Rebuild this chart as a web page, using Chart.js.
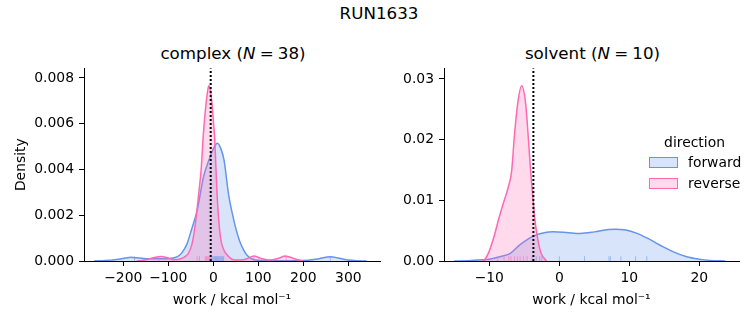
<!DOCTYPE html>
<html>
<head>
<meta charset="utf-8">
<script src="https://cdn.jsdelivr.net/npm/chart.js@4.4.1/dist/chart.umd.min.js"></script>
<style>
  body { margin: 0; width: 753px; height: 325px; position: relative; background: #fff; overflow: hidden;
         font-family: 'DejaVu Sans', sans-serif; color: #000; }
  canvas { position: absolute; }
  .txt { position: absolute; white-space: nowrap; }
  .ctr { text-align: center; width: 300px; }
  .box { position: absolute; width: 27px; height: 9px; }
</style>
</head>
<body>
<div class="txt ctr" style="left:229px;top:2.5px;font-size:16.7px;line-height:20px;">RUN1633</div>
<div class="txt ctr" style="left:83px;top:43px;font-size:16.7px;line-height:20px;">complex (<i>N</i>&#8197;=&#8197;38)</div>
<div class="txt ctr" style="left:442.5px;top:43px;font-size:16.7px;line-height:20px;">solvent (<i>N</i>&#8197;=&#8197;10)</div>

<canvas id="leftChart" width="390" height="270" style="left:0;top:55px;"></canvas>
<canvas id="rightChart" width="363" height="270" style="left:390px;top:55px;"></canvas>

<div class="txt ctr" style="left:544.5px;top:134px;font-size:13.9px;line-height:16px;">direction</div>
<div class="box" id="boxFwd" style="left:649px;top:157px;"></div>
<div class="txt" style="left:688px;top:153.7px;font-size:13.9px;line-height:16px;">forward</div>
<div class="box" id="boxRev" style="left:649px;top:177.5px;"></div>
<div class="txt" style="left:688px;top:174.7px;font-size:13.9px;line-height:16px;">reverse</div>

<script>
// complex panel: KDE curves
const complexFwdX = [-265, -240, -215, -195, -183, -170, -155, -140, -120, -100, -85, -75, -65, -58, -48, -36, -21.5, -10, 0, 9, 17, 24, 34, 42, 49, 58, 67, 75, 85, 100, 130, 180, 210, 235, 260, 280, 300, 320, 341];
const complexFwdY = [0, 0.00002, 0.00007, 0.00013, 0.00016, 0.00014, 0.00011, 0.0001, 0.0001, 0.0001, 0.00015, 0.00025, 0.0005, 0.00077, 0.0014, 0.0022, 0.0037, 0.0044, 0.0049, 0.00515, 0.0049, 0.0044, 0.0029, 0.0021, 0.0015, 0.0009, 0.0005, 0.00025, 0.0001, 0.00003, 0.00001, 0.00001, 0.00003, 0.0001, 0.00019, 0.00012, 0.00004, 0.00001, 0];
const complexRevX = [-170, -150, -135, -116, -100, -87, -72, -62, -55, -47, -40, -32.6, -27, -21.5, -16, -12, -10, -7, -3, 1, 3, 6, 9, 15.5, 23, 34, 45, 60, 75, 90, 105, 125, 145, 160, 180, 200];
const complexRevY = [0, 0.00005, 0.00013, 0.0002, 0.00013, 0.00006, 0.0001, 0.0002, 0.00035, 0.00077, 0.0016, 0.0029, 0.004, 0.0057, 0.0069, 0.0075, 0.00766, 0.0075, 0.0069, 0.0059, 0.0054, 0.004, 0.0027, 0.0011, 0.0005, 0.0002, 0.00005, 0.00004, 0.0001, 0.00022, 0.00012, 0.00004, 0.00012, 0.00022, 0.0001, 0];
const complexFwdRug = [-175, -31, -2, 1, 3, 5, 7, 9, 11, 13, 15, 17, 19, 21, 23, 260];
const complexRevRug = [-121, -36, -18, -16, -14, -12, -10, -8, -6, -4, 90, 162];
const complexRef = -5.8;
const complexXTicks = [-200, -100, 0, 100, 200, 300];
const complexYTicks = [0, 0.002, 0.004, 0.006, 0.008];

// solvent panel
const solventFwdX = [-15, -13, -11, -10, -8.5, -7, -5.6, -3.7, -2, -0.9, 1, 3, 5, 7, 8, 9.5, 11, 12.5, 14.4, 16.3, 18.2, 20, 21.5, 23.7];
const solventFwdY = [0, 0.00005, 0.0002, 0.0003, 0.0007, 0.00126, 0.0027, 0.0041, 0.0047, 0.0048, 0.0047, 0.00455, 0.0048, 0.0052, 0.00525, 0.0051, 0.0046, 0.0038, 0.0026, 0.0015, 0.0007, 0.0003, 0.0001, 0];
const solventRevX = [-11, -10.75, -10.14, -9.33, -8.71, -8, -7.28, -6.8, -6.43, -5.95, -5.38, -4.8, -4.43, -4.1, -3.7, -3.47, -3.14, -2.6, -1.8];
const solventRevY = [0, 0.0001, 0.00126, 0.004, 0.0067, 0.0095, 0.0122, 0.0149, 0.0204, 0.0259, 0.0289, 0.0259, 0.0204, 0.0149, 0.0095, 0.0067, 0.004, 0.00126, 0];
const solventFwdRug = [-3.3, -2.8, -2.5, 0, 3.6, 7.1, 7.3, 8.8, 10.9, 12.5];
const solventRevRug = [-8.8, -7.9, -7.2, -6.9, -6.4, -6.0, -5.6, -5.1, -4.6, -3.9];
const solventRef = -3.7;
const solventXTicks = [-10, 0, 10, 20];
const solventYTicks = [0, 0.01, 0.02, 0.03];

const BLUE = '#6495ED', PINK = '#FF69B4';
const BLUE_FILL = 'rgba(100,149,237,0.25)', PINK_FILL = 'rgba(255,105,180,0.25)';

document.getElementById('boxFwd').style.cssText += `background:${BLUE_FILL};border:1.3px solid ${BLUE};`;
document.getElementById('boxRev').style.cssText += `background:${PINK_FILL};border:1.3px solid ${PINK};`;

Chart.defaults.font.family = "'DejaVu Sans', sans-serif";
Chart.defaults.font.size = 13.9;
Chart.defaults.color = '#000';

function zip(xs, ys) { return xs.map((x, i) => ({x: x, y: ys[i]})); }

function kde(xs, ys, line, fill) {
  return { data: zip(xs, ys), borderColor: line, backgroundColor: fill, borderWidth: 1.5,
           fill: 'origin', pointRadius: 0, cubicInterpolationMode: 'monotone' };
}

function rug(vals, ymax, color) {
  return { data: vals.map(v => ({x: v, y: ymax * 0.0125})), showLine: false,
           pointStyle: 'line', rotation: 90, pointRadius: 2.4, pointBorderWidth: 1,
           pointBorderColor: color, pointBackgroundColor: color, pointHoverRadius: 2.4 };
}

function panel(id, p) {
  const axisLine = { display: true, color: '#000', width: 1 };
  const tickGrid = { drawOnChartArea: false, tickLength: 5, tickColor: '#000', lineWidth: 1 };
  new Chart(document.getElementById(id).getContext('2d'), {
    type: 'line',
    data: {
      datasets: [
        { data: [{x: p.ref, y: 0}, {x: p.ref, y: p.ymax}], borderColor: '#000', borderWidth: 2,
          borderDash: [2, 2], pointRadius: 0, fill: false },
        rug(p.revRug, p.ymax, 'rgba(255,105,180,0.55)'),
        rug(p.fwdRug, p.ymax, 'rgba(100,149,237,0.55)'),
        kde(p.revX, p.revY, PINK, PINK_FILL),
        kde(p.fwdX, p.fwdY, BLUE, BLUE_FILL)
      ]
    },
    options: {
      responsive: false, animation: false, devicePixelRatio: 1,
      layout: { padding: { top: 12, right: p.padRight, left: 0, bottom: 0 } },
      plugins: { legend: { display: false }, tooltip: { enabled: false } },
      scales: {
        x: {
          type: 'linear', min: p.xmin, max: p.xmax,
          border: axisLine, grid: tickGrid,
          ticks: { padding: 4, maxRotation: 0, callback: v => String(v).replace('-', '\u2212') },
          afterBuildTicks: s => { s.ticks = p.xTicks.map(v => ({value: v})); },
          afterFit: s => { s.height = 64; },
          title: { display: true, text: 'work / kcal mol\u207B\u00B9', padding: { top: 0, bottom: 16.7 } }
        },
        y: {
          min: 0, max: p.ymax,
          border: axisLine, grid: tickGrid,
          ticks: { padding: 5, callback: v => v.toFixed(p.decimals) },
          afterBuildTicks: s => { s.ticks = p.yTicks.map(v => ({value: v})); },
          afterFit: s => { s.width = p.yWidth; },
          title: { display: p.yTitle, text: 'Density', padding: { top: 12.7, bottom: 0 } }
        }
      }
    }
  });
}

panel('leftChart', {
  fwdX: complexFwdX, fwdY: complexFwdY, revX: complexRevX, revY: complexRevY,
  fwdRug: complexFwdRug, revRug: complexRevRug, ref: complexRef,
  xTicks: complexXTicks, yTicks: complexYTicks,
  xmin: -287.3, xmax: 370.4, ymax: 0.00842, decimals: 3,
  yWidth: 84, padRight: 10, yTitle: true
});

panel('rightChart', {
  fwdX: solventFwdX, fwdY: solventFwdY, revX: solventRevX, revY: solventRevY,
  fwdRug: solventFwdRug, revRug: solventRevRug, ref: solventRef,
  xTicks: solventXTicks, yTicks: solventYTicks,
  xmin: -16.47, xmax: 25.67, ymax: 0.03175, decimals: 2,
  yWidth: 54, padRight: 14, yTitle: false
});
</script>
</body>
</html>
